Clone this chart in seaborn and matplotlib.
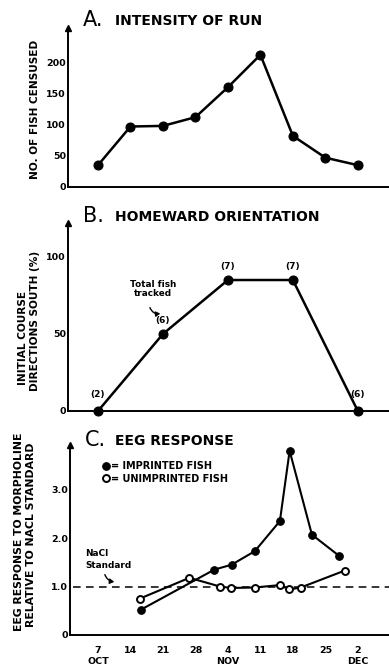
import matplotlib
matplotlib.use("Agg")
import matplotlib.pyplot as plt
import seaborn as sns
import pandas as pd

# Days counted from 1 October
tick_days = [7, 14, 21, 28, 35, 42, 49, 56, 63]
tick_labels = ["7\nOCT", "14", "21", "28", "4\nNOV", "11", "18", "25", "2\nDEC"]

# A. Intensity of run
run_days = [7, 14, 21, 28, 35, 42, 49, 56, 63]
run_counts = [35, 97, 98, 112, 160, 212, 82, 47, 35]

# B. Homeward orientation
orient_days = [7, 21, 35, 49, 63]
orient_pct = [0, 50, 85, 85, 0]
orient_n = [2, 6, 7, 7, 6]

# C. EEG response
imp_days = [16.2, 32.1, 35.8, 40.8, 46.2, 48.3, 53.1, 59.0]
imp_resp = [0.52, 1.35, 1.45, 1.73, 2.35, 3.8, 2.07, 1.63]
unimp_days = [16.0, 26.7, 33.3, 35.7, 40.8, 46.2, 48.2, 50.7, 60.2]
unimp_resp = [0.75, 1.18, 1.0, 0.97, 0.98, 1.03, 0.94, 0.98, 1.33]
nacl_standard = 1.0

sns.set_style("white")
plt.rcParams["font.family"] = ["DejaVu Sans"]
plt.rcParams["font.weight"] = "bold"
for key in ("text.color", "axes.labelcolor", "xtick.color", "ytick.color",
            "axes.edgecolor"):
    plt.rcParams[key] = "black"

W, H = 389, 670
fig = plt.figure(figsize=(W / 100, H / 100), dpi=100)


def box(left, top, bottom):
    return [left / W, 1 - bottom / H, 1 - left / W, (bottom - top) / H]


def ftext(x, y, s, **kw):
    fig.text(x / W, 1 - y / H, s, color="black", **kw)


axA = fig.add_axes(box(68, 28, 187))
axB = fig.add_axes(box(68, 223, 411))
axC = fig.add_axes(box(70, 445, 635))

px_per_day = 4.64
x_right = 7 + (389 - 98) / px_per_day

for ax, left_px in ((axA, 68), (axB, 68), (axC, 70)):
    ax.set_xlim(7 + (left_px - 98) / px_per_day, x_right)
    sns.despine(ax=ax)
    for side in ("left", "bottom"):
        ax.spines[side].set_linewidth(1.4)
        ax.spines[side].set_color("black")
    ax.tick_params(length=0, pad=1.5, labelsize=6.8, colors="black")
    ax.plot([0], [1], marker="^", color="black", markersize=4.5,
            transform=ax.transAxes, clip_on=False)

# ---- A ----
dfA = pd.DataFrame({"day": run_days, "count": run_counts})
sns.lineplot(data=dfA, x="day", y="count", ax=axA, color="black",
             linewidth=1.8, marker="o", markersize=6.5,
             markeredgecolor="black", markerfacecolor="black", clip_on=False)
axA.set_ylim(0, 255)
axA.set_yticks([0, 50, 100, 150, 200])
axA.set_yticklabels(["0", "50", "100", "150", "200"], fontweight="bold")
axA.set_xticks([])
axA.set_xlabel("")
axA.set_ylabel("")

# ---- B ----
dfB = pd.DataFrame({"day": orient_days, "pct": orient_pct})
sns.lineplot(data=dfB, x="day", y="pct", ax=axB, color="black",
             linewidth=1.8, marker="o", markersize=6.5,
             markeredgecolor="black", markerfacecolor="black", clip_on=False)
axB.set_ylim(0, 122)
axB.set_yticks([0, 50, 100])
axB.set_yticklabels(["0", "50", "100"], fontweight="bold")
axB.set_xticks([])
axB.set_xlabel("")
axB.set_ylabel("")
for d, p, n in zip(orient_days, orient_pct, orient_n):
    off = 12 if p == 0 else 9.5
    axB.annotate(f"({n})", (d, p), xytext=(0, off), textcoords="offset points",
                 ha="center", va="center", fontsize=6.5, fontweight="bold",
                 color="black")
ftext(153, 289, "Total fish\ntracked", ha="center", va="center",
      fontsize=6.4, fontweight="bold", linespacing=1.1)
fig.add_artist(matplotlib.patches.FancyArrowPatch(
    (149 / W, 1 - 305 / H), (163 / W, 1 - 313 / H),
    transform=fig.transFigure, arrowstyle="-|>,head_length=2.5,head_width=1.5",
    connectionstyle="arc3,rad=0.5", color="black", lw=1.0))

# ---- C ----
dfC_imp = pd.DataFrame({"day": imp_days, "resp": imp_resp})
dfC_un = pd.DataFrame({"day": unimp_days, "resp": unimp_resp})
axC.axhline(nacl_standard, xmin=0.01, color="black", lw=1.1,
            dashes=(5, 3.5), zorder=1)
sns.lineplot(data=dfC_un, x="day", y="resp", ax=axC, color="black",
             linewidth=1.5, marker="o", markersize=5,
             markeredgecolor="black", markerfacecolor="white",
             markeredgewidth=1.4, label="= UNIMPRINTED FISH", zorder=3)
sns.lineplot(data=dfC_imp, x="day", y="resp", ax=axC, color="black",
             linewidth=1.5, marker="o", markersize=5.5,
             markeredgecolor="black", markerfacecolor="black",
             label="= IMPRINTED FISH", zorder=4)
axC.set_ylim(0, 3.92)
axC.set_yticks([0, 1, 2, 3])
axC.set_yticklabels(["0", "1.0", "2.0", "3.0"], fontweight="bold")
axC.set_xticks(tick_days)
axC.set_xticklabels(tick_labels, fontweight="bold", fontsize=6.8,
                    linespacing=1.25)
axC.tick_params(axis="x", pad=8)
axC.set_xlabel("")
axC.set_ylabel("")
h, l = axC.get_legend_handles_labels()
leg = axC.legend(h[::-1], l[::-1], loc="upper left",
                 bbox_to_anchor=(0.08, 0.96), frameon=False,
                 handlelength=0.4, handletextpad=0.3, labelspacing=0.25,
                 prop=dict(size=7.0, weight="bold"))
for t in leg.get_texts():
    t.set_color("black")
ftext(85, 553, "NaCl", ha="left", va="center", fontsize=6.4, fontweight="bold")
ftext(85, 566, "Standard", ha="left", va="center", fontsize=6.4,
      fontweight="bold")
fig.add_artist(matplotlib.patches.FancyArrowPatch(
    (104 / W, 1 - 572 / H), (117 / W, 1 - 582 / H),
    transform=fig.transFigure, arrowstyle="-|>,head_length=2.5,head_width=1.5",
    connectionstyle="arc3,rad=0.4", color="black", lw=1.0))

# ---- panel titles ----
for x, y, letter, text in ((83, 20, "A.", "INTENSITY OF RUN"),
                           (83, 216, "B.", "HOMEWARD ORIENTATION"),
                           (85, 440, "C.", "EEG RESPONSE")):
    ftext(x, y, letter, ha="left", va="center", fontsize=15,
          fontweight="normal")
    ftext(115, y + 1, text, ha="left", va="center", fontsize=10,
          fontweight="bold")

# ---- axis titles ----
ftext(35, 109, "NO. OF FISH CENSUSED", rotation=90, ha="center",
      va="center", fontsize=7.6, fontweight="bold")
ftext(23, 338, "INITIAL COURSE", rotation=90, ha="center", va="center",
      fontsize=7.6, fontweight="bold")
ftext(35, 321, "DIRECTIONS SOUTH (%)", rotation=90, ha="center",
      va="center", fontsize=7.6, fontweight="bold")
ftext(19, 532, "EEG RESPONSE TO MORPHOLINE", rotation=90, ha="center",
      va="center", fontsize=7.8, fontweight="bold")
ftext(31, 535, "RELATIVE TO NACL STANDARD", rotation=90, ha="center",
      va="center", fontsize=7.8, fontweight="bold")

fig.savefig("out.png", dpi=100)
